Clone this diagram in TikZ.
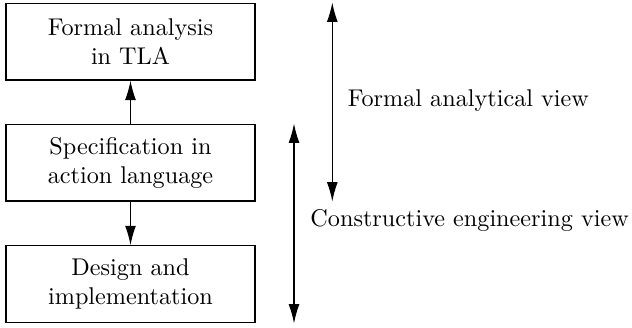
\documentclass[tikz,border=0pt]{standalone}
\usetikzlibrary{arrows.meta}
\begin{document}
\begin{tikzpicture}[x=0.4132pt,y=-0.4132pt,
  stage/.style={draw,line width=0.5pt,minimum width=102.9pt,minimum height=31.6pt,
    inner sep=2pt,align=center},
  flow/.style={line width=0.5pt,-{Latex[length=8pt,width=4.5pt]}},
  span/.style={line width=0.5pt,{Latex[length=8pt,width=4.5pt]}-{Latex[length=8pt,width=4.5pt]}},
  viewlabel/.style={anchor=west,inner sep=0pt}]
  \useasboundingbox (0,0) rectangle (632,327);
  % process stages
  \node[stage] (tla)  at (130.5,41.8)  {Formal analysis\\in TLA};
  \node[stage] (spec) at (130.5,162.8) {Specification in\\action language};
  \node[stage] (impl) at (130.5,284)   {Design and\\implementation};
  \draw[flow] (spec) -- (tla);
  \draw[flow] (spec) -- (impl);
  % extent of each view
  \coordinate (fTop) at (332.3,2.5);
  \coordinate (fBot) at (332.3,201.5);
  \coordinate (cTop) at (294,123.5);
  \coordinate (cBot) at (294,323.5);
  \draw[span] (fTop) -- (fBot);
  \draw[span] (cTop) -- (cBot);
  \node[viewlabel] (fview) at (347.3,101) {Formal analytical view};
  \node[viewlabel] (cview) at (310,220)   {Constructive engineering view};
\end{tikzpicture}
\end{document}
